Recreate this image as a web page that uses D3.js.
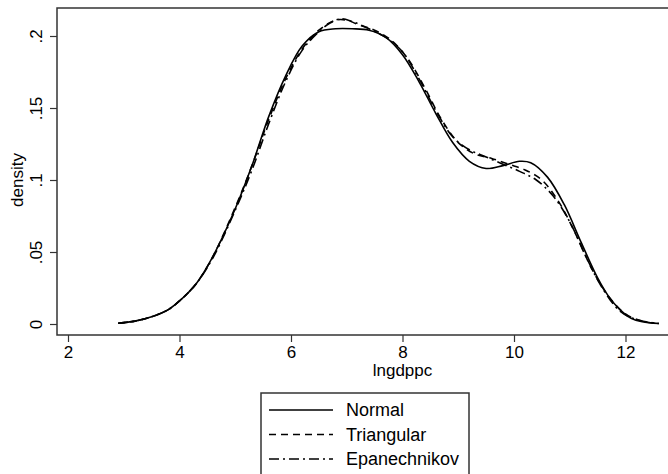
<!DOCTYPE html>
<html>
<head>
<meta charset="utf-8">
<script src="https://cdn.jsdelivr.net/npm/d3@7"></script>
<style>
  html, body { margin: 0; padding: 0; background: #fff; }
  svg { display: block; }
  text { font-family: "Liberation Sans", Arial, Helvetica, sans-serif; fill: #000; }
</style>
</head>
<body>
<svg id="chart" width="668" height="474"></svg>
<script>
// ---- data ----
const normalX = [2.9, 3.2, 3.5, 3.8, 4.0, 4.3, 4.6, 5.0, 5.3, 5.6, 5.9, 6.2, 6.5, 6.8, 7.1, 7.4, 7.7, 8.0, 8.3, 8.6, 8.9, 9.2, 9.5, 9.8, 10.1, 10.3, 10.6, 10.9, 11.2, 11.5, 11.7, 11.9, 12.1, 12.3, 12.6];
const normalY = [0.0005, 0.002, 0.005, 0.010, 0.016, 0.028, 0.047, 0.080, 0.110, 0.144, 0.172, 0.193, 0.203, 0.205, 0.205, 0.204, 0.199, 0.187, 0.168, 0.146, 0.126, 0.113, 0.108, 0.110, 0.113, 0.112, 0.102, 0.083, 0.057, 0.032, 0.019, 0.010, 0.004, 0.0015, 0.0003];

const triX = [2.9, 3.2, 3.5, 3.8, 4.0, 4.3, 4.6, 5.0, 5.3, 5.6, 5.9, 6.2, 6.5, 6.8, 7.0, 7.2, 7.5, 7.8, 8.1, 8.4, 8.7, 9.0, 9.3, 9.6, 9.9, 10.2, 10.5, 10.8, 11.1, 11.4, 11.7, 12.0, 12.3, 12.6];
const triY = [0.0005, 0.002, 0.005, 0.010, 0.016, 0.028, 0.047, 0.081, 0.110, 0.142, 0.170, 0.191, 0.204, 0.211, 0.211, 0.208, 0.204, 0.197, 0.184, 0.164, 0.142, 0.126, 0.118, 0.115, 0.111, 0.107, 0.100, 0.085, 0.063, 0.038, 0.019, 0.007, 0.002, 0.0003];

const epaX = [2.9, 3.2, 3.5, 3.8, 4.0, 4.3, 4.6, 5.0, 5.3, 5.6, 5.9, 6.2, 6.5, 6.7, 6.9, 7.1, 7.4, 7.7, 8.0, 8.3, 8.6, 8.9, 9.2, 9.5, 9.8, 10.1, 10.4, 10.7, 11.0, 11.3, 11.6, 11.9, 12.2, 12.6];
const epaY = [0.0005, 0.002, 0.005, 0.010, 0.016, 0.028, 0.046, 0.079, 0.107, 0.139, 0.168, 0.190, 0.203, 0.209, 0.212, 0.210, 0.205, 0.199, 0.189, 0.170, 0.148, 0.130, 0.121, 0.116, 0.111, 0.106, 0.100, 0.089, 0.071, 0.046, 0.024, 0.009, 0.003, 0.0003];

const xTicks = [2, 4, 6, 8, 10, 12];
const yTicks = [0, 0.05, 0.1, 0.15, 0.2];
const yTickLabels = ["0", ".05", ".1", ".15", ".2"];
const seriesNames = ["Normal", "Triangular", "Epanechnikov"];

// ---- layout ----
const svg = d3.select("#chart");
const plotLeft = 57, plotTop = 8, plotBottom = 335, plotRight = 672;

const x = d3.scaleLinear().domain([2, 12]).range([68, 625.5]);
const y = d3.scaleLinear().domain([0, 0.2]).range([324, 36]);

// frame
svg.append("rect")
  .attr("x", plotLeft).attr("y", plotTop)
  .attr("width", plotRight - plotLeft).attr("height", plotBottom - plotTop)
  .attr("fill", "none").attr("stroke", "#333").attr("stroke-width", 1.5);

// x axis
const xAxis = d3.axisBottom(x).tickValues(xTicks).tickSize(7).tickPadding(4).tickFormat(d3.format("d"));
const gx = svg.append("g").attr("transform", `translate(0,${plotBottom})`).call(xAxis);
gx.select(".domain").remove();
gx.selectAll("line").attr("stroke", "#333").attr("stroke-width", 1.2);
gx.selectAll("text").attr("font-size", 17).style("font-family", "Liberation Sans, Arial, sans-serif");

// y axis
const yAxis = d3.axisLeft(y).tickValues(yTicks).tickSize(7).tickFormat((d, i) => yTickLabels[i]);
const gy = svg.append("g").attr("transform", `translate(${plotLeft},0)`).call(yAxis);
gy.select(".domain").remove();
gy.selectAll("line").attr("stroke", "#333").attr("stroke-width", 1.2);
gy.selectAll("text")
  .attr("font-size", 17)
  .style("font-family", "Liberation Sans, Arial, sans-serif")
  .attr("text-anchor", "middle")
  .attr("x", null).attr("dy", null)
  .attr("transform", "translate(-21,0) rotate(-90)")
  .attr("y", 0)
  .attr("dominant-baseline", "central");

// axis titles
svg.append("text").attr("x", x(8)).attr("y", 376).attr("text-anchor", "middle")
  .attr("font-size", 17).text("lngdppc");
svg.append("text").attr("transform", `translate(23,${y(0.1)}) rotate(-90)`)
  .attr("text-anchor", "middle").attr("font-size", 17).text("density");

// curves
const line = d3.line().x(d => x(d[0])).y(d => y(d[1])).curve(d3.curveCatmullRom.alpha(0.5));
const dashes = [null, "7,5", "10,4,2,4"];
const series = [
  d3.zip(normalX, normalY),
  d3.zip(triX, triY),
  d3.zip(epaX, epaY)
];
series.forEach((s, i) => {
  svg.append("path").datum(s).attr("d", line)
    .attr("fill", "none").attr("stroke", "#000").attr("stroke-width", 1.6)
    .attr("stroke-dasharray", dashes[i]);
});

// legend
const lg = svg.append("g");
lg.append("rect").attr("x", 261).attr("y", 393).attr("width", 208).attr("height", 100)
  .attr("fill", "#fff").attr("stroke", "#333").attr("stroke-width", 1.5);
seriesNames.forEach((name, i) => {
  const yy = 410 + i * 24.5;
  lg.append("line").attr("x1", 269).attr("x2", 333).attr("y1", yy).attr("y2", yy)
    .attr("stroke", "#000").attr("stroke-width", 1.6).attr("stroke-dasharray", dashes[i]);
  lg.append("text").attr("x", 346).attr("y", yy).attr("dy", "0.36em")
    .attr("font-size", 18).text(name);
});
</script>
</body>
</html>
